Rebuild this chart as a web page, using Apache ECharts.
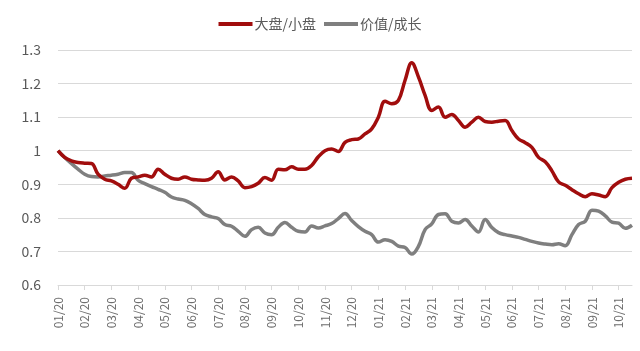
<!DOCTYPE html>
<html>
<head>
<meta charset="utf-8">
<script src="https://cdn.jsdelivr.net/npm/echarts@6/dist/echarts.min.js"></script>
<style>
  html, body { margin: 0; padding: 0; background: #fff; }
  #chart { width: 640px; height: 351px; }
</style>
</head>
<body>
<div id="chart"></div>
<script>
// month tick labels, 4 weekly points per month (last month partly shown)
var months = ["01/20", "02/20", "03/20", "04/20", "05/20", "06/20", "07/20", "08/20",
  "09/20", "10/20", "11/20", "12/20", "01/21", "02/21", "03/21", "04/21",
  "05/21", "06/21", "07/21", "08/21", "09/21", "10/21"];

var bigSmall = [
  1.0, 0.98, 0.97, 0.965, 0.963, 0.962, 0.93, 0.915, 0.91, 0.9,
  0.888, 0.918, 0.922, 0.927, 0.922, 0.945, 0.93, 0.918, 0.915, 0.922,
  0.915, 0.913, 0.912, 0.918, 0.937, 0.913, 0.922, 0.91, 0.89, 0.893,
  0.903, 0.92, 0.912, 0.945, 0.943, 0.952, 0.945, 0.945, 0.956, 0.982,
  1.0, 1.005, 0.998, 1.025, 1.033, 1.035, 1.05, 1.065, 1.10, 1.147,
  1.14, 1.15, 1.21, 1.262, 1.22, 1.165, 1.12, 1.13, 1.1, 1.108,
  1.09, 1.07, 1.085, 1.10, 1.087, 1.085, 1.088, 1.09, 1.06, 1.035,
  1.024, 1.01, 0.98, 0.967, 0.94, 0.907, 0.897, 0.884, 0.872, 0.863,
  0.872, 0.868, 0.863, 0.89, 0.906, 0.915, 0.918
];

var valueGrowth = [
  1.0, 0.98, 0.962, 0.945, 0.93, 0.923, 0.922, 0.925, 0.927, 0.93,
  0.935, 0.935, 0.912, 0.902, 0.893, 0.885, 0.876, 0.862, 0.856, 0.852,
  0.842, 0.828, 0.81, 0.803, 0.798, 0.78, 0.775, 0.76, 0.745, 0.765,
  0.772, 0.755, 0.75, 0.772, 0.786, 0.772, 0.76, 0.758, 0.776, 0.77,
  0.776, 0.783, 0.798, 0.813, 0.792, 0.774, 0.76, 0.75, 0.728, 0.735,
  0.73, 0.716, 0.712, 0.692, 0.715, 0.765, 0.782, 0.81, 0.812, 0.79,
  0.785, 0.795, 0.776, 0.758, 0.795, 0.771, 0.756, 0.75, 0.746, 0.742,
  0.736, 0.73, 0.725, 0.722, 0.72, 0.723, 0.717, 0.75, 0.78, 0.79,
  0.823, 0.82, 0.806, 0.787, 0.784, 0.769, 0.778
];

var yTicks = [0.6, 0.7, 0.8, 0.9, 1, 1.1, 1.2, 1.3];

var weeks = [];
for (var i = 0; i < bigSmall.length; i++) {
  weeks.push(months[Math.floor(i / 4)]);
}

var chart = echarts.init(document.getElementById("chart"));
var font = "'Noto Sans CJK SC', 'Noto Sans', sans-serif";

var option = {
  animation: false,
  backgroundColor: "#fff",
  legend: {
    top: 12,
    left: "center",
    icon: "rect",
    itemWidth: 34,
    itemHeight: 4,
    itemGap: 8,
    textStyle: { color: "#595959", fontSize: 14, fontFamily: font, padding: [0, 0, 0, -3] },
    data: ["大盘/小盘", "价值/成长"]
  },
  grid: { left: 58, right: 8, top: 50, bottom: 66 },
  xAxis: {
    type: "category",
    boundaryGap: false,
    data: weeks,
    axisLine: { lineStyle: { color: "#d9d9d9", width: 1 } },
    axisTick: { interval: 3, length: 5, lineStyle: { color: "#d9d9d9" } },
    axisLabel: {
      interval: 3,
      rotate: 90,
      margin: 12,
      color: "#6e6e6e",
      fontSize: 12,
      fontFamily: font
    },
    splitLine: { show: false }
  },
  yAxis: {
    type: "value",
    min: yTicks[0],
    max: yTicks[yTicks.length - 1],
    interval: 0.1,
    axisLine: { show: false },
    axisTick: { show: false },
    axisLabel: {
      margin: 17,
      color: "#595959",
      fontSize: 14,
      fontFamily: font,
      formatter: function (v) { return String(Math.round(v * 10) / 10); }
    },
    splitLine: { lineStyle: { color: "#d9d9d9", width: 1 } }
  },
  series: [
    {
      name: "大盘/小盘",
      type: "line",
      data: bigSmall,
      smooth: 0.4,
      showSymbol: false,
      itemStyle: { color: "#a10d0d" },
      lineStyle: { color: "#a10d0d", width: 3.5 },
      z: 3
    },
    {
      name: "价值/成长",
      type: "line",
      data: valueGrowth,
      smooth: 0.4,
      showSymbol: false,
      itemStyle: { color: "#7f7f7f" },
      lineStyle: { color: "#7f7f7f", width: 3.5 },
      z: 2
    }
  ]
};

chart.setOption(option);
</script>
</body>
</html>
